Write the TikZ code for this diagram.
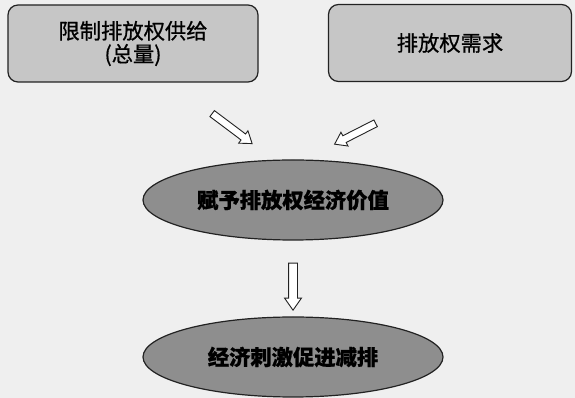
\documentclass[tikz,border=0pt]{standalone}
\usepackage{fontspec}
\newfontfamily\cjk[FakeBold=0.8]{Noto Sans CJK SC}
\usetikzlibrary{shapes.geometric,shapes.arrows}
\definecolor{bg}{HTML}{EFEFEF}
\definecolor{boxfill}{HTML}{C6C6C6}
\definecolor{ellfill}{HTML}{8E8E8E}
\definecolor{edge}{HTML}{222222}
\tikzset{
  topbox/.style={draw=edge, line width=1.2pt, fill=boxfill, rounded corners=10pt,
    minimum height=77pt, inner sep=0pt, align=center,
    font=\cjk\fontsize{21.3}{23}\selectfont},
  valueell/.style={ellipse, draw=edge, line width=1.2pt, fill=ellfill,
    minimum width=300pt, minimum height=80pt, inner sep=0pt,
    font=\cjk\fontsize{21.3}{24}\selectfont\bfseries},
  blockarrow/.style={single arrow, draw=edge, line width=0.9pt, fill=white,
    inner sep=3.3pt, single arrow head extend=4pt, single arrow tip angle=70,
    single arrow head indent=0pt, anchor=center}
}
\begin{document}
\begin{tikzpicture}[x=1pt,y=1pt]
\fill[bg] (0,0) rectangle (575,398);
\useasboundingbox (0,0) rectangle (575,398);
\node[topbox, minimum width=250pt] (supply) at (133,354.5) {限制排放权供给\\(总量)};
\node[topbox, minimum width=243pt] (demand) at (450,355) {排放权需求};
\node[valueell] (value) at (293,198) {赋予排放权经济价值};
\node[valueell] (stim) at (293,41) {经济刺激促进减排};
\node[blockarrow, minimum height=50pt, rotate=-36.9] (a1) at (230,271) {};
\node[blockarrow, minimum height=46pt, rotate=207] (a2) at (357.5,265.5) {};
\node[blockarrow, minimum height=47pt, inner sep=4pt, rotate=-90] (a3) at (293,114.5) {};
\end{tikzpicture}
\end{document}
